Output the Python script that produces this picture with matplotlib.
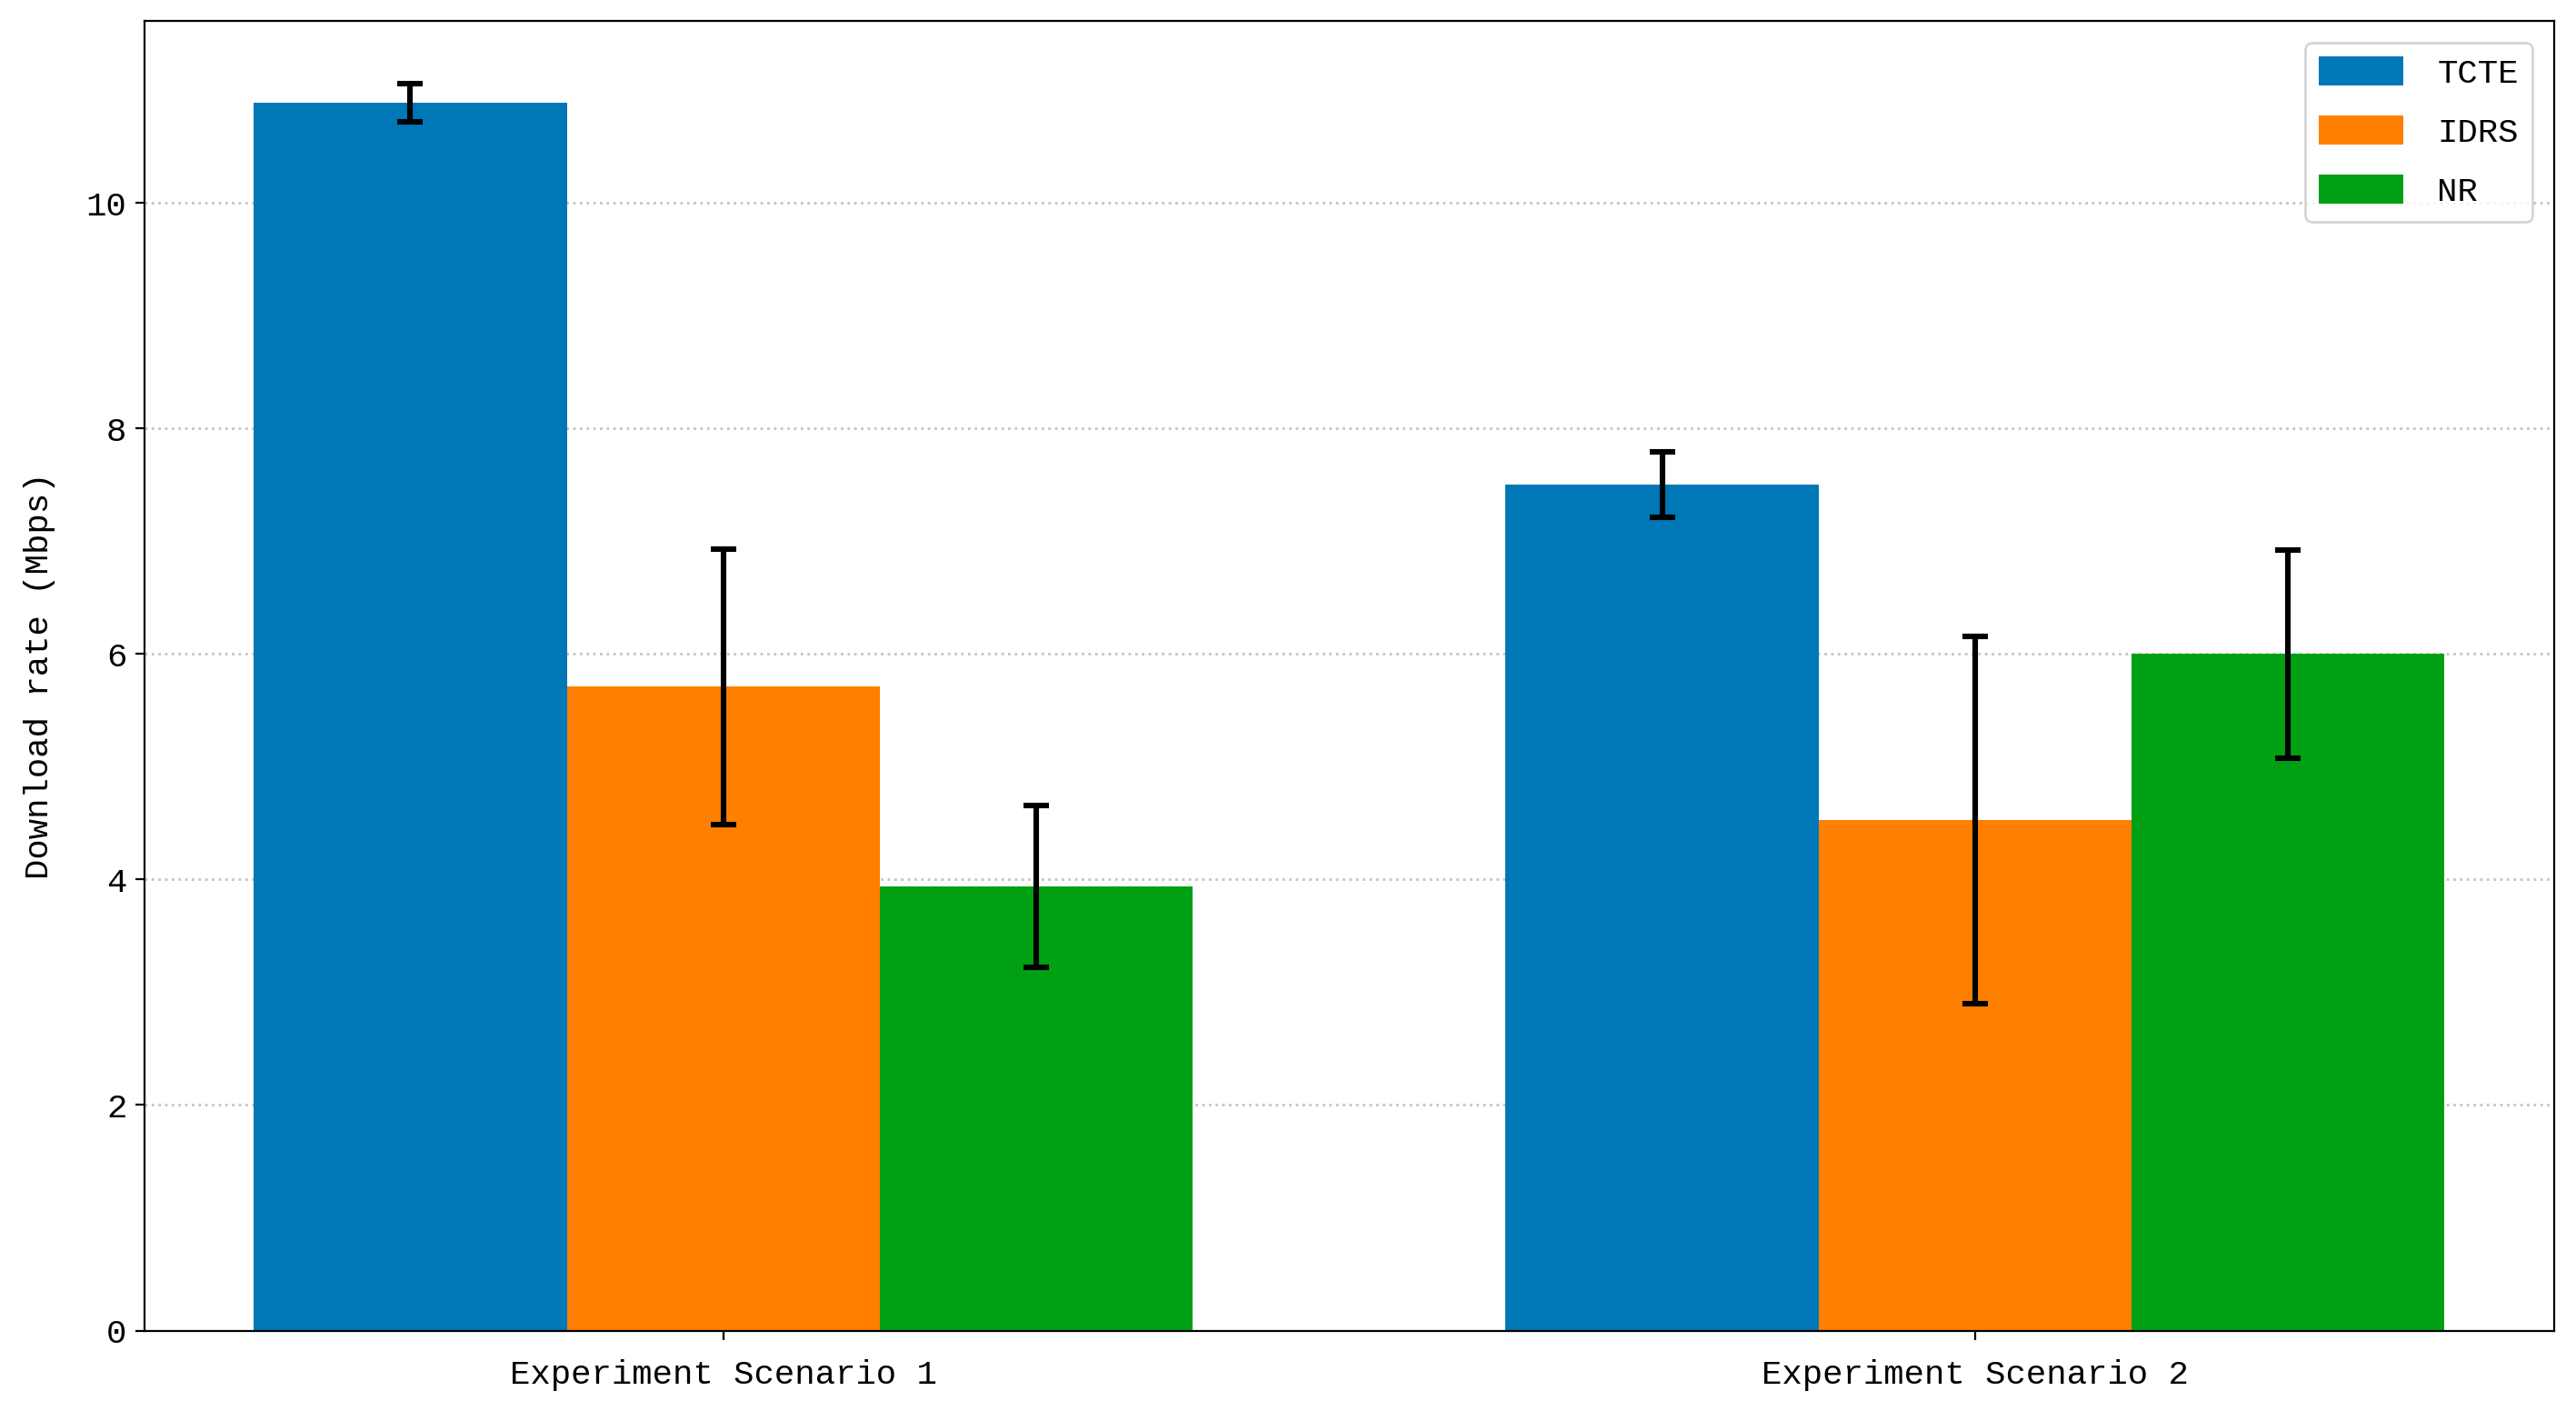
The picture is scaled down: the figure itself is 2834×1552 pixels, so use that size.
import matplotlib
matplotlib.use("Agg")
import matplotlib.pyplot as plt
import numpy as np

scenarios = ['Experiment Scenario 1', 'Experiment Scenario 2']
methods = ['TCTE', 'IDRS', 'NR']
tcte = [10.89, 7.50]
idrs = [5.71, 4.53]
nr = [3.94, 6.00]
tcte_err = [0.17, 0.29]
idrs_err = [1.22, 1.63]
nr_err = [0.72, 0.92]
colors = ['#0077b6', '#ff7f00', '#00a014']

plt.rcParams['font.family'] = ['Liberation Mono', 'DejaVu Sans Mono']
plt.rcParams['font.size'] = 13.4

fig = plt.figure(figsize=(14.17, 7.76), dpi=200)
ax = fig.add_axes([0.056, 0.057, 0.9355, 0.928])

x = np.arange(len(scenarios))
w = 0.25
vals = [tcte, idrs, nr]
errs = [tcte_err, idrs_err, nr_err]
for i in range(3):
    ax.bar(x + (i - 1) * w, vals[i], w, yerr=errs[i], color=colors[i],
           label=methods[i], zorder=2,
           error_kw=dict(ecolor='black', elinewidth=2.2, capsize=5, capthick=2.2))

ax.set_xticks(x)
ax.set_xticklabels(scenarios)
ax.tick_params(axis='x', pad=8)
ax.set_ylabel('Download rate (Mbps)', labelpad=12)
ax.yaxis.grid(True, linestyle=':', color='#c4c4c4', linewidth=1.0, zorder=0)
ax.set_axisbelow(True)
ax.legend(loc='upper right', borderaxespad=0.65, handlelength=2.5,
          handleheight=0.95, labelspacing=0.75, handletextpad=1.0)

fig.savefig('out.png', dpi=200)
